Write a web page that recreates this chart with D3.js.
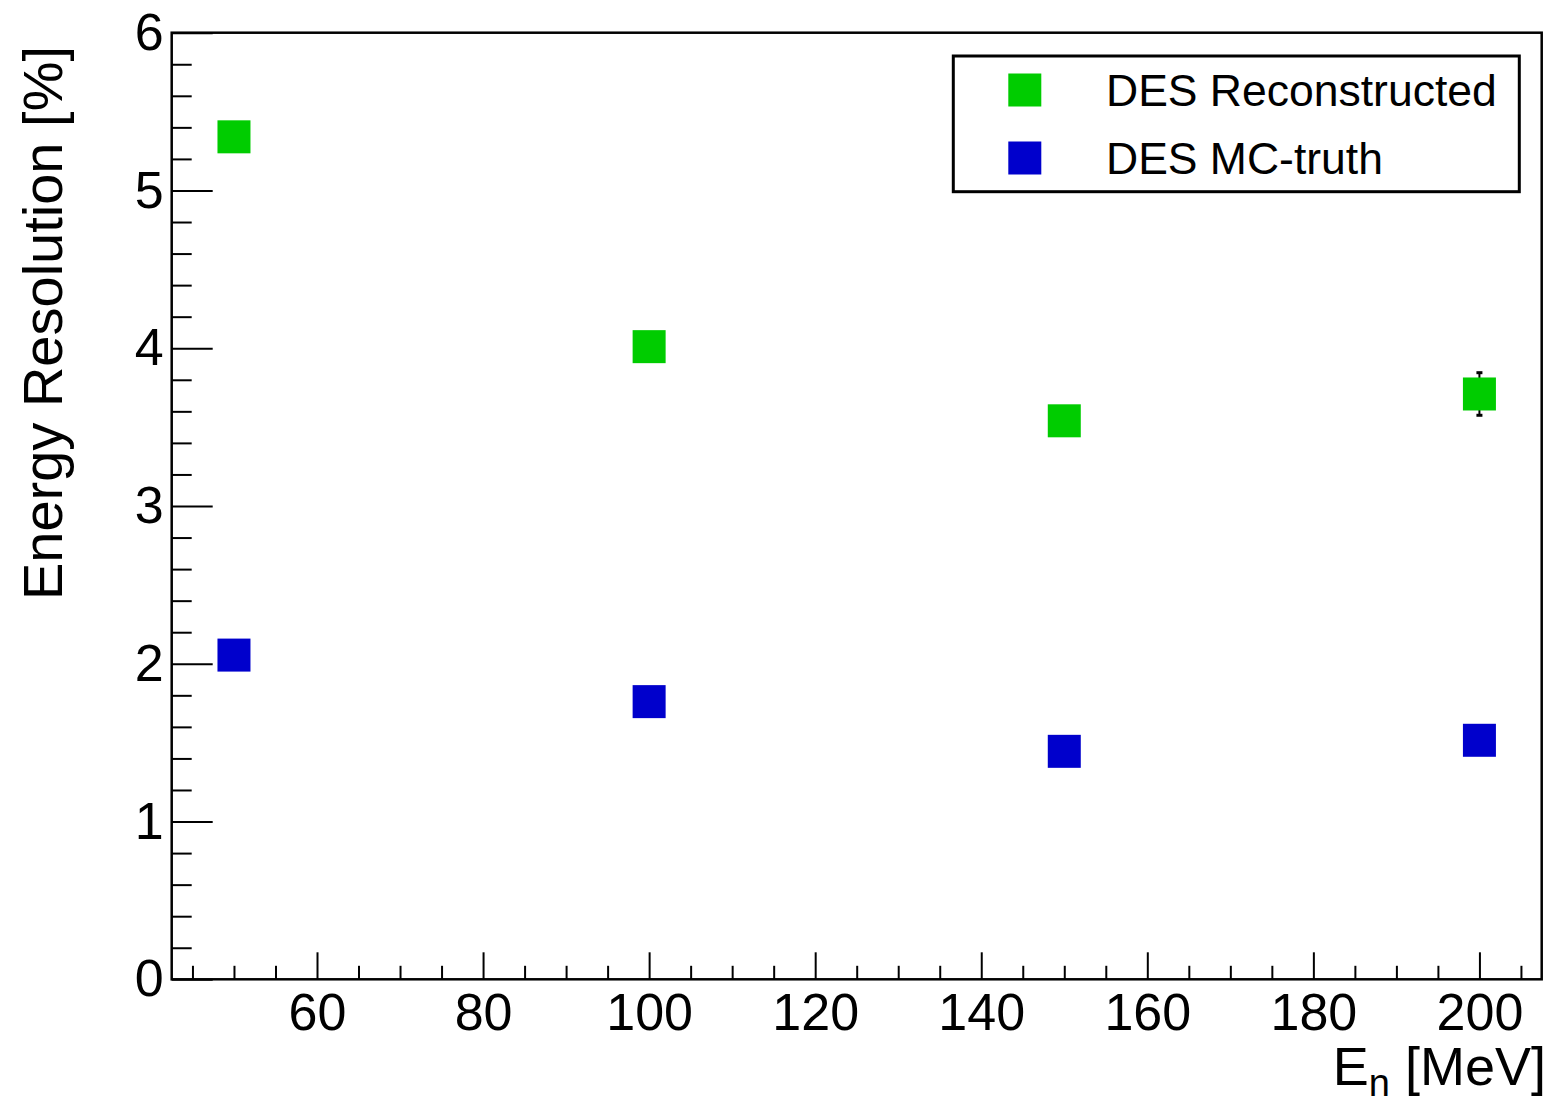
<!DOCTYPE html>
<html>
<head>
<meta charset="utf-8">
<script src="https://cdn.jsdelivr.net/npm/d3@7"></script>
<style>
  body { margin: 0; background: #fff; }
  svg { display: block; font-family: "Liberation Sans", Arial, Helvetica, sans-serif; }
  .axis text { font-size: 52px; fill: #000; }
  .axis line { stroke: #000; stroke-width: 2px; }
</style>
</head>
<body>
<svg width="1550" height="1099"></svg>
<script>
// Data
var energies = [50, 100, 150, 200];
var reconValues = [5.34, 4.01, 3.54, 3.71];
var reconErrors = [0.05, 0.06, 0.06, 0.135];
var truthValues = [2.055, 1.76, 1.445, 1.515];
var truthErrors = [0.02, 0.02, 0.02, 0.03];
var seriesNames = ['DES Reconstructed', 'DES MC-truth'];
var seriesColors = ['#00cc00', '#0000cc'];
var xMajorTicks = [60, 80, 100, 120, 140, 160, 180, 200];
var yMajorTicks = [0, 1, 2, 3, 4, 5, 6];

var svg = d3.select('svg');

// Frame of the plot area
var frame = {l: 171.7, r: 1541.7, t: 32.7, b: 979.3};

var xScale = d3.scaleLinear().domain([42.5, 207.5]).range([frame.l, frame.r]);
var yScale = d3.scaleLinear().domain([0, 6]).range([frame.b, frame.t]);

// minor ticks: every 5 on x, every 0.2 on y
var xMinorTicks = d3.range(45, 207, 5).filter(function(v) { return v % 20 !== 0; });
var yMinorTicks = d3.range(0, 30).map(function(i) { return i / 5; })
    .filter(function(v, i) { return i % 5 !== 0; });

// x axis (ticks point up into the frame)
var xMinorG = svg.append('g')
    .attr('class', 'axis')
    .attr('transform', 'translate(0,' + frame.b + ')')
    .call(d3.axisBottom(xScale).tickValues(xMinorTicks).tickSize(-13.5).tickFormat(''));
xMinorG.select('.domain').remove();

var xMajorG = svg.append('g')
    .attr('class', 'axis')
    .attr('transform', 'translate(0,' + frame.b + ')')
    .call(d3.axisBottom(xScale).tickValues(xMajorTicks).tickSize(-27).tickPadding(14).tickFormat(d3.format('d')));
xMajorG.select('.domain').remove();

// y axis
var yMinorG = svg.append('g')
    .attr('class', 'axis')
    .attr('transform', 'translate(' + frame.l + ',0)')
    .call(d3.axisLeft(yScale).tickValues(yMinorTicks).tickSize(-20).tickFormat(''));
yMinorG.select('.domain').remove();

var yMajorG = svg.append('g')
    .attr('class', 'axis')
    .attr('transform', 'translate(' + frame.l + ',0)')
    .call(d3.axisLeft(yScale).tickValues(yMajorTicks).tickSize(-41).tickPadding(8).tickFormat(d3.format('d')));
yMajorG.select('.domain').remove();

// frame
svg.append('rect')
    .attr('x', frame.l)
    .attr('y', frame.t)
    .attr('width', frame.r - frame.l)
    .attr('height', frame.b - frame.t)
    .attr('fill', 'none')
    .attr('stroke', '#000')
    .attr('stroke-width', 2.5);

// Build series
var series = [
    {name: seriesNames[0], color: seriesColors[0], values: reconValues, errors: reconErrors},
    {name: seriesNames[1], color: seriesColors[1], values: truthValues, errors: truthErrors}
];

var markerSize = 33;

series.forEach(function(s) {
    var points = energies.map(function(e, i) {
        return {x: e, y: s.values[i], err: s.errors[i]};
    });

    var g = svg.append('g').attr('class', 'series');

    // error bars
    var eb = g.selectAll('.err')
        .data(points)
        .enter()
        .append('g')
        .attr('class', 'err');
    eb.append('line')
        .attr('x1', function(d) { return xScale(d.x); })
        .attr('x2', function(d) { return xScale(d.x); })
        .attr('y1', function(d) { return yScale(d.y + d.err); })
        .attr('y2', function(d) { return yScale(d.y - d.err); })
        .attr('stroke', '#000')
        .attr('stroke-width', 2);
    [1, -1].forEach(function(sign) {
        eb.append('line')
            .attr('x1', function(d) { return xScale(d.x) - 3; })
            .attr('x2', function(d) { return xScale(d.x) + 3; })
            .attr('y1', function(d) { return yScale(d.y + sign * d.err); })
            .attr('y2', function(d) { return yScale(d.y + sign * d.err); })
            .attr('stroke', '#000')
            .attr('stroke-width', 3);
    });

    // square markers
    g.selectAll('.dot')
        .data(points)
        .enter()
        .append('rect')
        .attr('class', 'dot')
        .attr('x', function(d) { return xScale(d.x) - markerSize / 2; })
        .attr('y', function(d) { return yScale(d.y) - markerSize / 2; })
        .attr('width', markerSize)
        .attr('height', markerSize)
        .attr('fill', s.color);
});

// Legend
var legend = svg.append('g').attr('class', 'legend');
legend.append('rect')
    .attr('x', 953.3)
    .attr('y', 56)
    .attr('width', 1519.3 - 953.3)
    .attr('height', 191.7 - 56)
    .attr('fill', '#fff')
    .attr('stroke', '#000')
    .attr('stroke-width', 3);

var legendRows = legend.selectAll('.row')
    .data(series)
    .enter()
    .append('g')
    .attr('class', 'row')
    .attr('transform', function(d, i) { return 'translate(0,' + (90 + i * 68) + ')'; });

legendRows.append('rect')
    .attr('x', 1008.3)
    .attr('y', -markerSize / 2)
    .attr('width', markerSize)
    .attr('height', markerSize)
    .attr('fill', function(d) { return d.color; });

legendRows.append('text')
    .attr('x', 1106)
    .attr('y', 15.7)
    .attr('font-size', 44.5)
    .attr('fill', '#000')
    .text(function(d) { return d.name; });

// Axis titles
var xTitle = svg.append('text')
    .attr('x', 1546)
    .attr('y', 1085)
    .attr('text-anchor', 'end')
    .attr('font-size', 54)
    .attr('fill', '#000');
xTitle.append('tspan').text('E');
xTitle.append('tspan').attr('font-size', 38).attr('dy', 11).text('n');
xTitle.append('tspan').attr('dy', -11).text(' [MeV]');

svg.append('text')
    .attr('transform', 'translate(62,46) rotate(-90)')
    .attr('text-anchor', 'end')
    .attr('font-size', 56)
    .attr('fill', '#000')
    .text('Energy Resolution [%]');
</script>
</body>
</html>
